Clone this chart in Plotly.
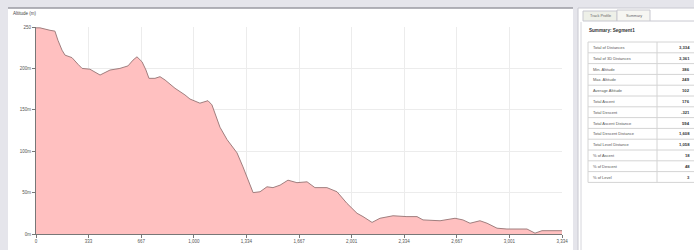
import plotly.graph_objects as go

# ---- data ----
distance_m = [0, 25, 89, 120, 139, 165, 184, 228, 266, 292, 342, 406, 469, 532, 583, 615, 640,
              672, 697, 716, 754, 786, 818, 881, 944, 976, 1039, 1090, 1115, 1166, 1211, 1274,
              1312, 1344, 1376, 1420, 1464, 1502, 1547, 1597, 1654, 1718, 1768, 1844, 1908,
              1971, 2035, 2073, 2130, 2180, 2263, 2351, 2415, 2453, 2561, 2656, 2706, 2751,
              2814, 2859, 2922, 2985, 3112, 3163, 3207, 3334]
altitude_m = [249, 249, 246, 245, 234, 222, 216, 213, 205, 200, 199, 192, 198, 200, 203, 210, 214,
              208, 198, 188, 188, 190, 186, 176, 168, 163, 158, 161, 156, 129, 114, 98,
              81, 65, 50, 51, 57, 56, 59, 65, 62, 63, 56, 56, 51,
              37, 25, 21, 14, 19, 22, 21, 21, 17, 16, 19, 17, 13,
              16, 13, 7, 6, 6, 1, 4, 4]

x_tick_values = [0, 333.4, 666.8, 1000.2, 1333.6, 1667, 2000.4, 2333.8, 2667.2, 3000.6, 3334]
x_tick_labels = ["0", "333", "667", "1,000", "1,334", "1,667", "2,001", "2,334", "2,667", "3,001", "3,334"]
y_tick_values = [0, 50, 100, 150, 200, 250]
y_tick_labels = ["0m", "50m", "100m", "150m", "200m", "250"]

axis_title = "Altitude (m)"
summary_title = "Summary: Segment1"
tab_labels = ["Track Profile", "Summary"]
summary_labels = ["Total of Distances", "Total of 3D Distances", "Min. Altitude", "Max. Altitude",
                  "Average Altitude", "Total Ascent", "Total Descent", "Total Ascent Distance",
                  "Total Descent Distance", "Total Level Distance", "% of Ascent", "% of Descent",
                  "% of Level"]
summary_values = ["3,334", "3,361", "386", "249", "102", "176", "-321", "594",
                  "1,608", "1,058", "18", "48", "3"]

W, H = 694, 250
FONT = "Liberation Sans, Arial, sans-serif"


def px(x):
    return x / W


def py(y):
    return 1 - y / H


fig = go.Figure()
fig.add_trace(go.Scatter(
    x=distance_m, y=altitude_m, mode="lines", fill="tozeroy",
    line=dict(color="#a07e7e", width=1), fillcolor="#ffc0c0",
    hoverinfo="skip", showlegend=False,
))

shapes = []
shapes.append(dict(type="rect", xref="paper", yref="paper", x0=px(8), x1=px(573), y0=py(250), y1=py(8),
                   fillcolor="white", line=dict(width=0), layer="below"))
shapes.append(dict(type="line", xref="paper", yref="paper", x0=px(8), x1=px(573), y0=py(8), y1=py(8),
                   line=dict(color="#9a9aa2", width=1.5), layer="below"))
shapes.append(dict(type="rect", xref="paper", yref="paper", x0=px(578), x1=px(700), y0=py(252), y1=py(8),
                   fillcolor="white", line=dict(color="#c8c8d0", width=1), layer="below"))
shapes.append(dict(type="line", xref="paper", yref="paper", x0=px(581), x1=px(581), y0=py(250), y1=py(22),
                   line=dict(color="#d6d6dc", width=1), layer="below"))
shapes.append(dict(type="rect", xref="paper", yref="paper", x0=px(583), x1=px(617), y0=py(21), y1=py(11),
                   fillcolor="#eef0e8", line=dict(color="#c8c8d0", width=1), layer="below"))
shapes.append(dict(type="rect", xref="paper", yref="paper", x0=px(617), x1=px(650), y0=py(21), y1=py(10),
                   fillcolor="#f6f6f2", line=dict(color="#c8c8d0", width=1), layer="below"))
shapes.append(dict(type="line", xref="paper", yref="paper", x0=px(650), x1=px(694), y0=py(21), y1=py(21),
                   line=dict(color="#c8c8d0", width=1), layer="below"))

annotations = []
annotations.append(dict(text=axis_title, xref="paper", yref="paper", x=px(11), y=py(13),
                        xanchor="left", yanchor="middle", showarrow=False,
                        font=dict(size=4.5, color="#444", family=FONT)))
for i, t in enumerate(tab_labels):
    annotations.append(dict(text=t, xref="paper", yref="paper", x=px(600 + 33.5 * i), y=py(16),
                            xanchor="center", yanchor="middle", showarrow=False,
                            font=dict(size=3.8, color="#666", family=FONT)))
annotations.append(dict(text="<b>" + summary_title + "</b>", xref="paper", yref="paper", x=px(587), y=py(30),
                        xanchor="left", yanchor="middle", showarrow=False,
                        font=dict(size=4.6, color="#333", family=FONT)))

row_top = 42
row_h = 10.8
n = len(summary_labels)
for i in range(n + 1):
    yy = row_top + i * row_h
    shapes.append(dict(type="line", xref="paper", yref="paper", x0=px(588), x1=px(694), y0=py(yy), y1=py(yy),
                       line=dict(color="#d4d4d4", width=1), layer="below"))
shapes.append(dict(type="line", xref="paper", yref="paper", x0=px(588), x1=px(588),
                   y0=py(row_top + n * row_h), y1=py(row_top), line=dict(color="#d4d4d4", width=1), layer="below"))
shapes.append(dict(type="line", xref="paper", yref="paper", x0=px(657), x1=px(657),
                   y0=py(row_top + n * row_h), y1=py(row_top), line=dict(color="#d4d4d4", width=1), layer="below"))
for i, (lab, val) in enumerate(zip(summary_labels, summary_values)):
    yc = row_top + (i + 0.5) * row_h
    annotations.append(dict(text=lab, xref="paper", yref="paper", x=px(591), y=py(yc),
                            xanchor="left", yanchor="middle", showarrow=False,
                            font=dict(size=4, color="#555", family=FONT)))
    annotations.append(dict(text="<b>" + val + "</b>", xref="paper", yref="paper", x=px(692), y=py(yc),
                            xanchor="right", yanchor="middle", showarrow=False,
                            font=dict(size=4.2, color="#333", family=FONT)))

fig.update_layout(
    width=W, height=H,
    margin=dict(l=0, r=0, t=0, b=0, pad=0),
    paper_bgcolor="#e5e5eb",
    plot_bgcolor="rgba(0,0,0,0)",
    shapes=shapes,
    annotations=annotations,
    font=dict(family=FONT, size=5, color="#444"),
    xaxis=dict(domain=[px(36), px(562)], range=[0, 3334], tickvals=x_tick_values, ticktext=x_tick_labels,
               automargin=False,
               showgrid=True, gridcolor="#ececec", gridwidth=1, zeroline=False,
               showline=True, linecolor="#777", linewidth=1,
               ticks="outside", ticklen=3, tickcolor="#777", tickfont=dict(size=4.5, color="#555")),
    yaxis=dict(domain=[1 - 234 / H, 1 - 27 / H], range=[0, 250], tickvals=y_tick_values, ticktext=y_tick_labels,
               automargin=False,
               showgrid=True, gridcolor="#ececec", gridwidth=1, zeroline=False,
               showline=True, linecolor="#777", linewidth=1,
               ticks="outside", ticklen=3, tickcolor="#777", tickfont=dict(size=4.5, color="#555")),
)

fig.write_html("out.html", config={"displayModeBar": False},
               post_script="document.body.style.margin='0';document.body.style.overflow='hidden';")
